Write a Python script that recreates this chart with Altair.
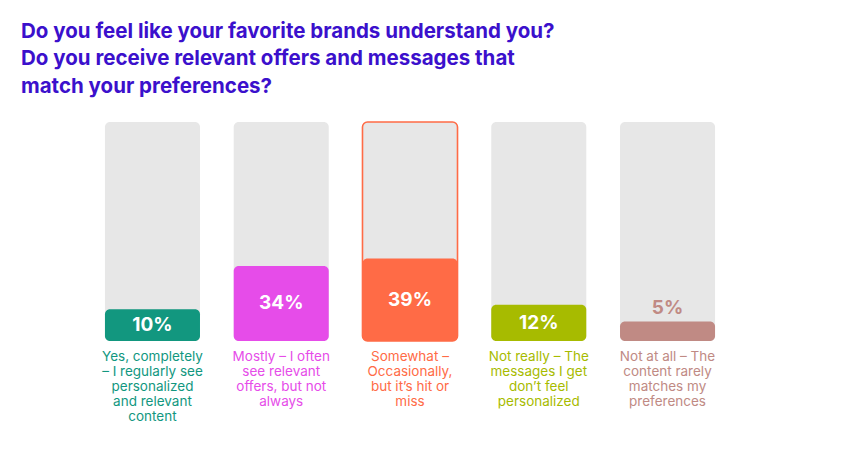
import altair as alt
import pandas as pd

# ---- data ----
title_lines = [
    "Do you feel like your favorite brands understand you?",
    "Do you receive relevant offers and messages that",
    "match your preferences?",
]
labels = [
    "Yes, completely\n– I regularly see\npersonalized\nand relevant\ncontent",
    "Mostly – I often\nsee relevant\noffers, but not\nalways",
    "Somewhat –\nOccasionally,\nbut it’s hit or\nmiss",
    "Not really – The\nmessages I get\ndon’t feel\npersonalized",
    "Not at all – The\ncontent rarely\nmatches my\npreferences",
]
values = [10, 34, 39, 12, 5]
colors = ["#12977f", "#e64ce9", "#ff6b46", "#a7bb00", "#c08a84"]
highlight = [False, False, True, False, False]

SCALE_MAX = 157
EXPONENT = 0.7

df = pd.DataFrame({"label": labels, "value": values, "highlight": highlight})

x = alt.X("label:N", sort=labels, axis=None,
          scale=alt.Scale(paddingInner=0.262, paddingOuter=0.753))
yscale = alt.Scale(type="pow", exponent=EXPONENT, domain=[0, SCALE_MAX])
color = alt.Color("label:N", scale=alt.Scale(domain=labels, range=colors), legend=None)

base = alt.Chart(df)

background = base.transform_calculate(top=str(SCALE_MAX)).mark_bar(
    color="#e7e7e7", cornerRadius=5, stroke="#ff6b46"
).encode(
    x=x,
    y=alt.Y("top:Q", scale=yscale, axis=None),
    y2=alt.datum(0),
    strokeWidth=alt.condition("datum.highlight", alt.value(1.6), alt.value(0)),
)

bars = base.mark_bar(cornerRadius=5).encode(
    x=x,
    y=alt.Y("value:Q", scale=yscale, axis=None),
    y2=alt.datum(0),
    color=color,
)

inside = base.transform_filter("datum.value >= 8").transform_calculate(
    mid=f"pow(pow(datum.value, {EXPONENT}) / 2, 1 / {EXPONENT})",
    txt="datum.value + '%'",
).mark_text(font="Inter", fontSize=19, fontWeight="bold", color="white").encode(
    x=x,
    y=alt.Y("mid:Q", scale=yscale, axis=None),
    text="txt:N",
)

outside = base.transform_filter("datum.value < 8").transform_calculate(
    txt="datum.value + '%'",
).mark_text(font="Inter", fontSize=19, fontWeight="bold", baseline="bottom", dy=-3).encode(
    x=x,
    y=alt.Y("value:Q", scale=yscale, axis=None),
    text="txt:N",
    color=color,
)

cat_labels = base.mark_text(
    font="Inter", fontSize=13.5, baseline="top", lineBreak="\n", lineHeight=15
).encode(
    x=x,
    y=alt.value(228),
    text="label:N",
    color=color,
)

chart = alt.layer(background, bars, inside, outside, cat_labels).properties(
    width=804,
    height=219,
    autosize="none",
    padding={"left": 0, "top": 114, "right": 0, "bottom": 100},
    title=alt.Title(
        text=title_lines,
        anchor="start",
        frame="group",
        font="Inter",
        fontSize=20.5,
        fontWeight="bold",
        color="#3b10cc",
        lineHeight=27.5,
        baseline="bottom",
        offset=4,
        dx=13,
    ),
).configure_view(stroke=None)

chart.save("out.html", embed_options={"renderer": "svg", "actions": False})
